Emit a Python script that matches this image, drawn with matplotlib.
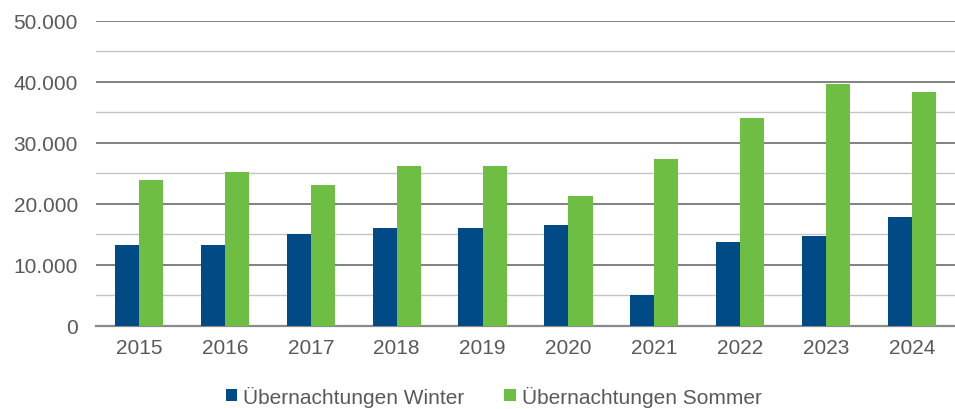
import matplotlib
matplotlib.use("Agg")
import matplotlib.pyplot as plt
from matplotlib.ticker import FuncFormatter, MultipleLocator
import numpy as np

years = ["2015", "2016", "2017", "2018", "2019", "2020", "2021", "2022", "2023", "2024"]
winter = [13300, 13300, 15100, 16000, 16000, 16450, 5000, 13800, 14700, 17750]
sommer = [23900, 25200, 23000, 26100, 26100, 21250, 27400, 34000, 39650, 38300]
series_names = ["Übernachtungen Winter", "Übernachtungen Sommer"]
colors = ["#004a85", "#6fbe44"]

plt.rcParams['font.family'] = ['Liberation Sans', 'DejaVu Sans']

fig = plt.figure(figsize=(9.55, 4.1), dpi=100)
ax = fig.add_axes([96/955, (410-326.7)/410, 859/955, 305/410])

x = np.arange(len(years))
w = 0.28
ax.bar(x - w/2, winter, width=w, color=colors[0], label=series_names[0], zorder=3)
ax.bar(x + w/2, sommer, width=w, color=colors[1], label=series_names[1], zorder=3)

ax.set_xlim(-0.5, len(years) - 0.5)
ax.set_ylim(0, 50000)
ax.yaxis.set_major_locator(MultipleLocator(10000))
ax.yaxis.set_minor_locator(MultipleLocator(5000))
ax.yaxis.set_major_formatter(FuncFormatter(lambda v, p: f"{int(v):,}".replace(",", ".")))
ax.grid(axis='y', which='major', color='#808080', linewidth=1.4, zorder=0)
ax.grid(axis='y', which='minor', color='#c4c4c4', linewidth=1.0, zorder=0)
ax.set_axisbelow(True)

for s in ['top', 'right', 'left']:
    ax.spines[s].set_visible(False)
ax.spines['bottom'].set_color('#8a8a8a')
ax.spines['bottom'].set_linewidth(1.6)

ax.set_xticks(x)
ax.set_xticklabels(years)
ax.tick_params(axis='both', which='both', length=0, labelsize=15, labelcolor='#595959')
ax.tick_params(axis='y', pad=13)
ax.tick_params(axis='x', pad=9)

fig.legend(loc='center', bbox_to_anchor=(0.517, 1 - 397/410), ncol=2, frameon=False,
           handlelength=0.55, handleheight=0.55, handletextpad=0.3, columnspacing=1.9,
           fontsize=15, labelcolor='#595959')

fig.savefig("out.png", dpi=100)
